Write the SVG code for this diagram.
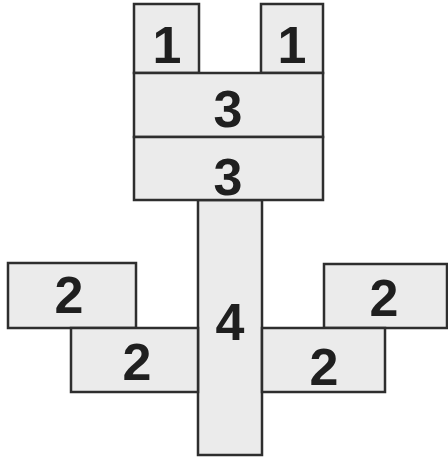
<svg xmlns="http://www.w3.org/2000/svg" width="448" height="458" viewBox="0 0 448 458">
<style>
.b{fill:#ebebeb;stroke:#2e2e2e;stroke-width:2.5}
.t{font-family:"Liberation Sans",Arial,sans-serif;font-size:52px;font-weight:bold;fill:#1f1f1f;text-anchor:middle}
</style>
<rect width="448" height="458" fill="#ffffff"/>
<g id="n4"><rect class="b" x="198" y="200" width="64" height="255"/><text class="t" x="230" y="340">4</text></g>
<g id="n1a"><rect class="b" x="134" y="4" width="65" height="69"/><text class="t" x="167" y="63">1</text></g>
<g id="n1b"><rect class="b" x="261" y="4" width="62" height="69"/><text class="t" x="292" y="63">1</text></g>
<g id="n3a"><rect class="b" x="134" y="73" width="189" height="64"/><text class="t" x="228" y="127">3</text></g>
<g id="n3b"><rect class="b" x="134" y="137" width="189" height="63"/><text class="t" x="228" y="195">3</text></g>
<g id="n2a"><rect class="b" x="8" y="263" width="128" height="65"/><text class="t" x="69" y="313">2</text></g>
<g id="n2b"><rect class="b" x="71" y="328" width="127" height="64"/><text class="t" x="137" y="380">2</text></g>
<g id="n2c"><rect class="b" x="324" y="264" width="123" height="64"/><text class="t" x="384" y="316">2</text></g>
<g id="n2d"><rect class="b" x="262" y="328" width="123" height="64"/><text class="t" x="324" y="385">2</text></g>
<g id="connectors"></g>
</svg>
